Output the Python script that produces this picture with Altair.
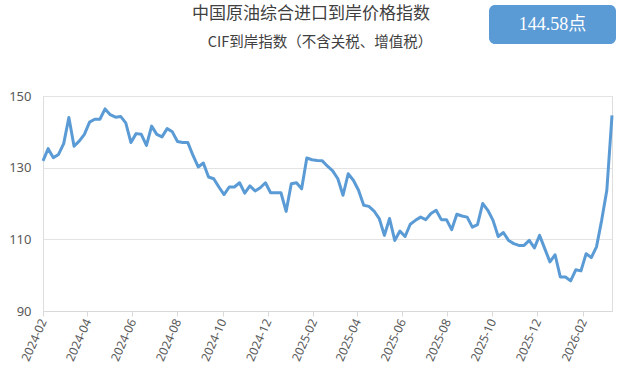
import altair as alt
import pandas as pd

title_text = "中国原油综合进口到岸价格指数"
subtitle_text = "CIF到岸指数（不含关税、增值税）"
badge_text = "144.58点"

start_date = "2024-02-01"
values = [
    131.9, 135.3, 132.8, 133.7, 136.7, 144.0, 136.0, 137.4, 139.3, 142.7,
    143.5, 143.5, 146.4, 144.8, 144.1, 144.3, 142.5, 137.0, 139.5, 139.3,
    136.2, 141.6, 139.3, 138.6, 140.9, 140.0, 137.3, 137.0, 137.0, 133.4,
    130.2, 131.3, 127.4, 126.9, 124.6, 122.5, 124.6, 124.6, 125.8, 122.9,
    124.9, 123.5, 124.4, 125.8, 123.0, 123.0, 123.0, 117.8, 125.5, 125.8,
    124.1, 132.7, 132.2, 132.0, 131.9, 130.4, 129.1, 126.9, 122.3, 128.3,
    126.5, 123.7, 119.5, 119.2, 117.9, 115.8, 111.1, 115.8, 109.7, 112.3,
    110.8, 114.2, 115.3, 116.2, 115.5, 117.2, 118.1, 115.5, 115.5, 112.7,
    117.0, 116.5, 116.2, 113.4, 114.1, 120.0, 118.1, 115.3, 110.8, 111.9,
    109.7, 108.8, 108.3, 108.3, 109.7, 107.6, 111.1, 107.4, 103.7, 105.7,
    99.5, 99.5, 98.4, 101.5, 101.2, 106.0, 104.9, 107.9, 115.3, 123.7,
    144.58,
]
y_ticks = [90, 110, 130, 150]
x_tick_months = [
    (2024, 2), (2024, 4), (2024, 6), (2024, 8), (2024, 10), (2024, 12),
    (2025, 2), (2025, 4), (2025, 6), (2025, 8), (2025, 10), (2025, 12),
    (2026, 2),
]

dates = pd.date_range(start_date, periods=len(values), freq="7D")
df = pd.DataFrame({
    "date": [d.strftime("%Y-%m-%dT00:00:00") for d in dates],
    "value": values,
})

BLUE = "#5b9bd5"
GRAY = "#595959"

line = alt.Chart(df).mark_line(color=BLUE, strokeWidth=3, strokeJoin="round").encode(
    x=alt.X(
        "date:T",
        scale=alt.Scale(nice=False),
        axis=alt.Axis(
            title=None,
            format="%Y-%m",
            values=[alt.DateTime(year=y, month=m, date=1) for y, m in x_tick_months],
            labelAngle=-66,
            labelColor=GRAY,
            labelFontSize=12,
            labelFont="Noto Sans",
            domainColor="#d9d9d9",
            tickColor="#d9d9d9",
            tickSize=5,
            grid=False,
            labelPadding=3,
        ),
    ),
    y=alt.Y(
        "value:Q",
        scale=alt.Scale(domain=[90, 150], nice=False, zero=False),
        axis=alt.Axis(
            title=None,
            values=y_ticks,
            labelColor=GRAY,
            labelFontSize=13,
            labelFont="Noto Sans",
            domain=False,
            ticks=False,
            gridColor="#e3e3e3",
            labelPadding=12,
        ),
    ),
)

one = pd.DataFrame({"k": [0]})

title = alt.Chart(pd.DataFrame({"t": [title_text]})).mark_text(
    fontSize=17, font="Noto Sans CJK SC", color="#404040", align="center", baseline="middle"
).encode(text="t:N", x=alt.value(268), y=alt.value(-82))

subtitle = alt.Chart(pd.DataFrame({"t": [subtitle_text]})).mark_text(
    fontSize=14.5, font="Noto Sans CJK SC", color="#404040", align="center", baseline="middle"
).encode(text="t:N", x=alt.value(277), y=alt.value(-53))

badge = alt.Chart(one).mark_rect(color=BLUE, cornerRadius=6).encode(
    x=alt.value(446), x2=alt.value(573), y=alt.value(-91), y2=alt.value(-52)
)

badge_label = alt.Chart(pd.DataFrame({"t": [badge_text]})).mark_text(
    fontSize=18, font="Liberation Serif, Noto Sans CJK SC", color="white", align="center", baseline="middle"
).encode(text="t:N", x=alt.value(509.5), y=alt.value(-71))

chart = alt.layer(line, title, subtitle, badge, badge_label).properties(
    width=569,
    height=215,
    padding={"left": 43, "top": 96, "right": 16, "bottom": 67},
    autosize=alt.AutoSizeParams(type="none"),
).configure_view(stroke=None).configure(background="white")

chart.save("out.html", embed_options={"renderer": "svg", "actions": False})
